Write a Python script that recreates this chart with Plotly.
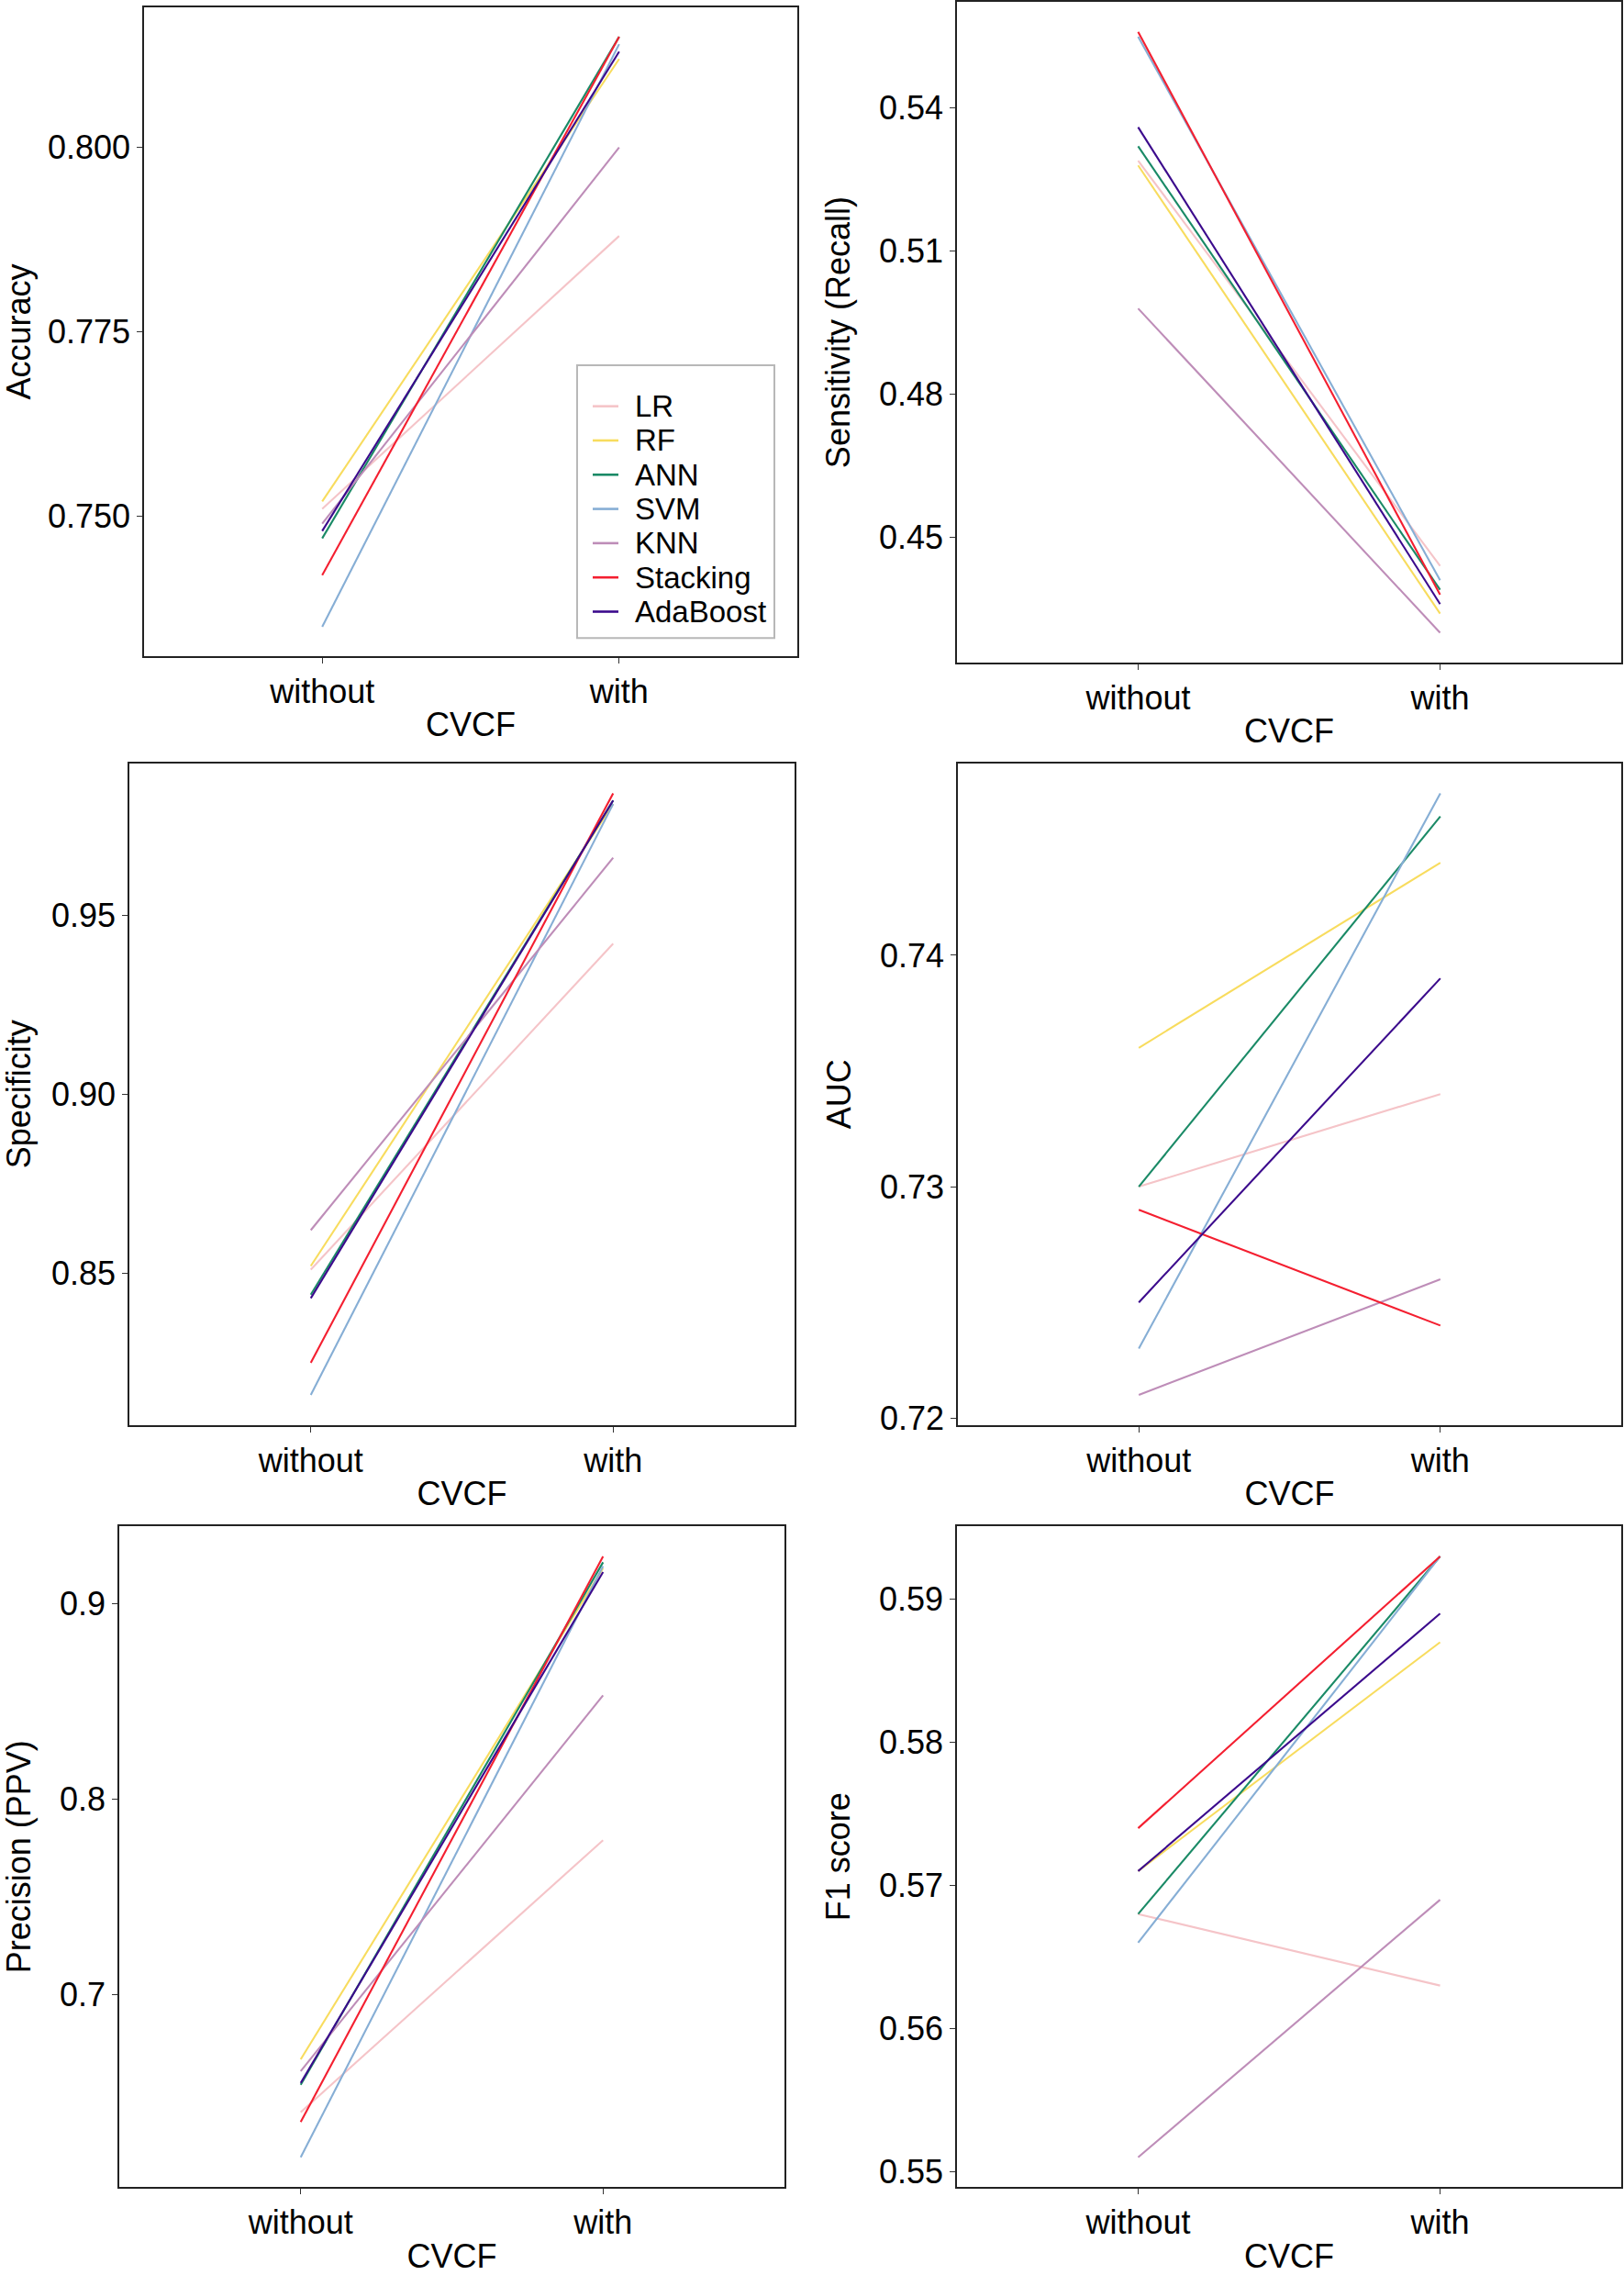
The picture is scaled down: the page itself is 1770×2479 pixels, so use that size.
import plotly.graph_objects as go

models = ["LR", "RF", "ANN", "SVM", "KNN", "Stacking", "AdaBoost"]
conditions = ["without", "with"]
colors = ["#F5C4C8", "#F8DC5E", "#1A8A66", "#86AED5", "#BE8DB8", "#F41F30", "#3B0A8C"]

accuracy_without = [0.751, 0.752, 0.747, 0.735, 0.749, 0.742, 0.748]
accuracy_with = [0.788, 0.812, 0.815, 0.814, 0.800, 0.815, 0.813]
sensitivity_without = [0.529, 0.528, 0.532, 0.555, 0.498, 0.556, 0.536]
sensitivity_with = [0.444, 0.434, 0.439, 0.441, 0.430, 0.438, 0.436]
specificity_without = [0.851, 0.852, 0.844, 0.816, 0.862, 0.825, 0.843]
specificity_with = [0.942, 0.981, 0.982, 0.981, 0.966, 0.984, 0.982]
auc_without = [0.730, 0.736, 0.730, 0.723, 0.721, 0.729, 0.725]
auc_with = [0.734, 0.744, 0.746, 0.747, 0.726, 0.724, 0.739]
precision_without = [0.640, 0.667, 0.654, 0.617, 0.661, 0.635, 0.655]
precision_with = [0.779, 0.918, 0.921, 0.919, 0.853, 0.924, 0.916]
f1_without = [0.568, 0.571, 0.568, 0.566, 0.551, 0.574, 0.571]
f1_with = [0.563, 0.587, 0.593, 0.593, 0.569, 0.593, 0.589]

acc_ticks = [0.750, 0.775, 0.800]
sens_ticks = [0.45, 0.48, 0.51, 0.54]
spec_ticks = [0.85, 0.90, 0.95]
auc_ticks = [0.72, 0.73, 0.74]
prec_ticks = [0.7, 0.8, 0.9]
f1_ticks = [0.55, 0.56, 0.57, 0.58, 0.59]

panels = [
    ("Accuracy", accuracy_without, accuracy_with, acc_ticks, ".3f"),
    ("Sensitivity (Recall)", sensitivity_without, sensitivity_with, sens_ticks, ".2f"),
    ("Specificity", specificity_without, specificity_with, spec_ticks, ".2f"),
    ("AUC", auc_without, auc_with, auc_ticks, ".2f"),
    ("Precision (PPV)", precision_without, precision_with, prec_ticks, ".1f"),
    ("F1 score", f1_without, f1_with, f1_ticks, ".2f"),
]

W, H = 1770, 2479
# panel boxes in pixels: (left, right, top, bottom)
boxes = [
    (157, 869, 8, 719),
    (1043, 1767, 2, 726),
    (141, 866, 836, 1561),
    (1044, 1767, 836, 1561),
    (130, 855, 1672, 2396),
    (1043, 1767, 1672, 2396),
]

FONT = "Arial, Liberation Sans, sans-serif"
fig = go.Figure()
layout = {}
for i, (title, wo, wi, ticks, fmt) in enumerate(panels):
    n = "" if i == 0 else str(i + 1)
    for m, c, a, b in zip(models, colors, wo, wi):
        fig.add_trace(go.Scatter(
            x=conditions, y=[a, b], mode="lines", name=m,
            line=dict(color=c, width=2.1),
            xaxis="x" + n, yaxis="y" + n,
            showlegend=False,
        ))
    l, r, t, btm = boxes[i]
    vals = wo + wi
    lo, hi = min(vals), max(vals)
    pad = (hi - lo) * 0.05
    common = dict(showline=True, mirror=True, linecolor="#222", linewidth=1.6,
                  ticks="outside", ticklen=6, tickwidth=1.4, tickcolor="#333",
                  showgrid=False, zeroline=False,
                  tickfont=dict(family=FONT, size=36, color="black"))
    layout["xaxis" + n] = dict(
        domain=[l / W, r / W], anchor="y" + n, type="category",
        range=[-0.6, 1.6],
        title=dict(text="CVCF", font=dict(family=FONT, size=36, color="black"), standoff=4),
        **common)
    layout["yaxis" + n] = dict(
        domain=[1 - btm / H, 1 - t / H], anchor="x" + n,
        range=[lo - pad, hi + pad], tickvals=ticks,
        ticktext=[format(v, fmt) for v in ticks],
        title=dict(text=title, font=dict(family=FONT, size=36, color="black"), standoff=20),
        **common)

# legend inside the Accuracy panel, built from the model and colour lists
LEG_L, LEG_R, LEG_T, LEG_B = 629, 844, 400, 699
ITEM0, STEP = 445, 37.5
shapes = [dict(type="rect", xref="paper", yref="paper", layer="above",
               x0=LEG_L / W, x1=LEG_R / W, y0=1 - LEG_B / H, y1=1 - LEG_T / H,
               fillcolor="white", line=dict(color="#B8B8B8", width=2))]
annotations = []
for k, (m, c) in enumerate(zip(models, colors)):
    yc = 1 - (ITEM0 + k * STEP) / H
    shapes.append(dict(type="line", xref="paper", yref="paper", layer="above",
                       x0=646 / W, x1=674 / W, y0=yc, y1=yc,
                       line=dict(color=c, width=2.6)))
    annotations.append(dict(text=m, xref="paper", yref="paper", x=690 / W, y=yc,
                            xanchor="left", yanchor="middle", showarrow=False,
                            font=dict(family=FONT, size=33, color="black")))

fig.update_layout(
    width=W, height=H, autosize=False,
    margin=dict(l=0, r=0, t=0, b=0),
    paper_bgcolor="white", plot_bgcolor="white",
    font=dict(family=FONT, color="black"),
    showlegend=False,
    shapes=shapes, annotations=annotations,
    **layout,
)

fig.write_html("out.html", config={"displayModeBar": False},
               post_script="document.body.style.margin='0';document.body.style.overflow='hidden';")
